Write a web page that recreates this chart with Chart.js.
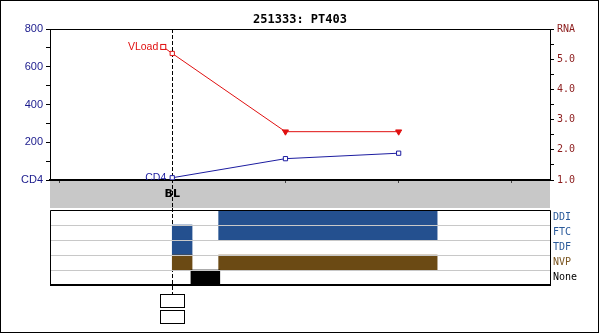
<!DOCTYPE html>
<html>
<head>
<meta charset="utf-8">
<script src="https://cdn.jsdelivr.net/npm/chart.js@4.4.1/dist/chart.umd.min.js"></script>
<style>
    body { margin: 0; background: #fff; }
    #wrap { position: relative; width: 600px; height: 334px; }
    #wrap canvas { position: absolute; left: 0; top: 0; }
    #frame { position: absolute; left: 0; top: 0; width: 599px; height: 333px; box-sizing: border-box; border: 1px solid #000; }
</style>
</head>
<body>
<div id="wrap">
    <canvas id="labChart" width="600" height="334"></canvas>
    <canvas id="drugChart" width="600" height="334"></canvas>
    <div id="frame"></div>
</div>
<script>
// ===== DATA =====
const visits = [0, 1, 2];
const cd4Values = [12, 113, 142];
const rnaValues = [5.19, 2.6, 2.6];
const rnaBelowLimit = [false, true, true];

const xTicks = [-1, 0, 1, 2, 3];
const xTickLabels = ['', 'BL', '', '', ''];
const cd4Ticks = [0, 100, 200, 300, 400, 500, 600, 700, 800];
const cd4TickLabels = ['CD4', '', '200', '', '400', '', '600', '', '800'];
const rnaTicks = [1, 1.5, 2, 2.5, 3, 3.5, 4, 4.5, 5, 5.5, 6];
const rnaTickLabels = ['1.0', '', '2.0', '', '3.0', '', '4.0', '', '5.0', '', 'RNA'];

const drugs = ['DDI', 'FTC', 'TDF', 'NVP', 'None'];
const firstCourse = [null, [0, 0.175], [0, 0.175], [0, 0.175], [0.165, 0.42]];
const secondCourse = [[0.41, 2.34], [0.41, 2.34], null, [0.41, 2.34], null];

const XMIN = -1.08, XMAX = 3.337;
const BLUE = '#24508F', BROWN = '#6B4A14';
const barColors = [BLUE, BLUE, BLUE, BROWN, '#000'];
const drugLabelColors = ['#2A5A9A', '#2A5A9A', '#2A5A9A', '#7A5520', '#000'];
const CD4_COLOR = '#1C1CA0', RNA_COLOR = '#E01010';

function dashedBL(ctx, x, y1, y2) {
    ctx.save();
    ctx.strokeStyle = '#000';
    ctx.lineWidth = 1;
    ctx.setLineDash([4, 2]);
    ctx.beginPath();
    ctx.moveTo(Math.round(x) + 0.5, y1);
    ctx.lineTo(Math.round(x) + 0.5, y2);
    ctx.stroke();
    ctx.restore();
}

// ===== TOP: CD4 / RNA =====
const labPlugin = {
    id: 'labDecor',
    beforeDraw(chart) {
        const ctx = chart.ctx, x = chart.scales.x;
        ctx.save();
        ctx.fillStyle = '#C8C8C8';
        ctx.fillRect(x.left, x.top, x.width, x.height);
        ctx.restore();
    },
    beforeDatasetsDraw(chart) {
        const ctx = chart.ctx, a = chart.chartArea, x = chart.scales.x;
        // top edge of plot box
        ctx.save();
        ctx.strokeStyle = '#000';
        ctx.beginPath();
        ctx.moveTo(a.left, Math.round(a.top) + 0.5);
        ctx.lineTo(a.right, Math.round(a.top) + 0.5);
        ctx.stroke();
        ctx.restore();
        dashedBL(ctx, x.getPixelForValue(0), a.top, x.bottom);

        // labels next to the first points
        const p0 = chart.getDatasetMeta(1).data[0];
        const mx = p0.x - 9, my = p0.y - 6.5;
        ctx.save();
        ctx.strokeStyle = RNA_COLOR;
        ctx.lineWidth = 1;
        ctx.beginPath();
        ctx.moveTo(mx, my);
        ctx.lineTo(p0.x, p0.y);
        ctx.stroke();
        ctx.fillStyle = '#fff';
        ctx.fillRect(mx - 2.5, my - 2.5, 5, 5);
        ctx.strokeRect(mx - 2.5, my - 2.5, 5, 5);
        ctx.fillStyle = RNA_COLOR;
        ctx.font = '10.5px "Liberation Sans"';
        ctx.textAlign = 'right';
        ctx.textBaseline = 'middle';
        ctx.fillText('VLoad', mx - 5, my);

        const c0 = chart.getDatasetMeta(0).data[0];
        ctx.beginPath();
        ctx.rect(a.left, a.top, a.width, a.height);
        ctx.clip();
        ctx.fillStyle = CD4_COLOR;
        ctx.fillText('CD4', c0.x - 6, c0.y);
        ctx.restore();
    }
};

new Chart(document.getElementById('labChart'), {
    type: 'line',
    data: {
        datasets: [{
            label: 'CD4',
            data: visits.map((v, i) => ({ x: v, y: cd4Values[i] })),
            yAxisID: 'yCD4',
            borderColor: CD4_COLOR,
            borderWidth: 1,
            pointStyle: 'rect',
            pointRadius: 3,
            pointBorderWidth: 1,
            pointBackgroundColor: '#fff',
            pointBorderColor: CD4_COLOR
        }, {
            label: 'VLoad',
            data: visits.map((v, i) => ({ x: v, y: rnaValues[i] })),
            yAxisID: 'yRNA',
            borderColor: RNA_COLOR,
            borderWidth: 1,
            pointStyle: rnaBelowLimit.map(b => b ? 'triangle' : 'rect'),
            pointRotation: rnaBelowLimit.map(b => b ? 180 : 0),
            pointRadius: rnaBelowLimit.map(b => b ? 3.5 : 3),
            pointBorderWidth: 1,
            pointBackgroundColor: rnaBelowLimit.map(b => b ? RNA_COLOR : '#fff'),
            pointBorderColor: RNA_COLOR
        }]
    },
    options: {
        responsive: false,
        animation: false,
        devicePixelRatio: 1,
        layout: { padding: { left: 0, right: 0, top: 0, bottom: 126 } },
        plugins: {
            legend: { display: false },
            tooltip: { enabled: false },
            title: {
                display: true,
                text: '251333: PT403',
                color: '#000',
                font: { family: 'DejaVu Sans Mono', size: 12, weight: 'bold' },
                padding: { top: 13, bottom: 1.6 }
            }
        },
        scales: {
            x: {
                type: 'linear', min: XMIN, max: XMAX,
                afterBuildTicks: s => { s.ticks = xTicks.map(v => ({ value: v })); },
                afterFit: s => { s.height = 28; },
                ticks: {
                    callback: (v, i) => xTickLabels[i],
                    autoSkip: false, maxRotation: 0, padding: 5, color: '#000',
                    font: { family: 'DejaVu Sans', size: 11, weight: 'bold' }
                },
                grid: { drawOnChartArea: false, tickLength: 3, tickColor: '#444' },
                border: { color: '#000', width: 2 }
            },
            yCD4: {
                type: 'linear', position: 'left', min: 0, max: 800,
                afterBuildTicks: s => { s.ticks = cd4Ticks.map(v => ({ value: v })); },
                afterFit: s => { s.width = 50; },
                ticks: {
                    callback: (v, i) => cd4TickLabels[i],
                    padding: 3, color: '#1A1A8C',
                    font: { family: 'Liberation Sans', size: 11 }
                },
                grid: { drawOnChartArea: false, tickLength: 4, tickColor: '#000' },
                border: { color: '#000', width: 1 }
            },
            yRNA: {
                type: 'linear', position: 'right', min: 1, max: 6,
                afterBuildTicks: s => { s.ticks = rnaTicks.map(v => ({ value: v })); },
                afterFit: s => { s.width = 50; },
                ticks: {
                    callback: (v, i) => rnaTickLabels[i],
                    padding: 3, color: '#8B1A1A',
                    font: { family: 'DejaVu Sans Mono', size: 10 }
                },
                grid: { drawOnChartArea: false, tickLength: 4, tickColor: '#000' },
                border: { color: '#000', width: 1 }
            }
        }
    },
    plugins: [labPlugin]
});

// ===== BOTTOM: DRUG TIMELINE =====
const drugPlugin = {
    id: 'drugDecor',
    beforeDatasetsDraw(chart) {
        const x = chart.scales.x;
        dashedBL(chart.ctx, x.getPixelForValue(0), 208, 294);
    },
    afterDraw(chart) {
        const ctx = chart.ctx, a = chart.chartArea;
        const bx = Math.round(chart.scales.x.getPixelForValue(0)) - 12;
        ctx.save();
        ctx.strokeStyle = '#000';
        ctx.lineWidth = 1;
        ctx.beginPath();
        ctx.moveTo(a.left + 0.5, a.bottom);
        ctx.lineTo(a.left + 0.5, a.top + 0.5);
        ctx.lineTo(a.right + 0.5, a.top + 0.5);
        ctx.lineTo(a.right + 0.5, a.bottom);
        ctx.stroke();
        ctx.lineWidth = 2;
        ctx.beginPath();
        ctx.moveTo(a.left, a.bottom);
        ctx.lineTo(a.right + 1, a.bottom);
        ctx.stroke();
        // visit boxes under BL
        ctx.lineWidth = 1;
        ctx.fillStyle = '#fff';
        [294, 310].forEach(y => {
            ctx.fillRect(bx + 0.5, y + 0.5, 24, 13);
            ctx.strokeRect(bx + 0.5, y + 0.5, 24, 13);
        });
        ctx.restore();
    }
};

new Chart(document.getElementById('drugChart'), {
    type: 'bar',
    data: {
        labels: drugs,
        datasets: [{
            data: firstCourse,
            backgroundColor: barColors,
            grouped: false
        }, {
            data: secondCourse,
            backgroundColor: barColors,
            grouped: false
        }]
    },
    options: {
        indexAxis: 'y',
        responsive: false,
        animation: false,
        devicePixelRatio: 1,
        layout: { padding: { left: 50, right: 0, top: 210, bottom: 49 } },
        categoryPercentage: 1,
        barPercentage: 1,
        plugins: { legend: { display: false }, tooltip: { enabled: false } },
        scales: {
            x: { type: 'linear', min: XMIN, max: XMAX, display: false },
            y: {
                position: 'right',
                afterFit: s => { s.width = 50; },
                grid: { offset: true, color: '#C8C8C8', drawTicks: false, z: 1 },
                border: { display: false },
                ticks: {
                    padding: 3,
                    color: ctx => drugLabelColors[ctx.index],
                    font: { family: 'DejaVu Sans Mono', size: 10 }
                }
            }
        }
    },
    plugins: [drugPlugin]
});
</script>
</body>
</html>
